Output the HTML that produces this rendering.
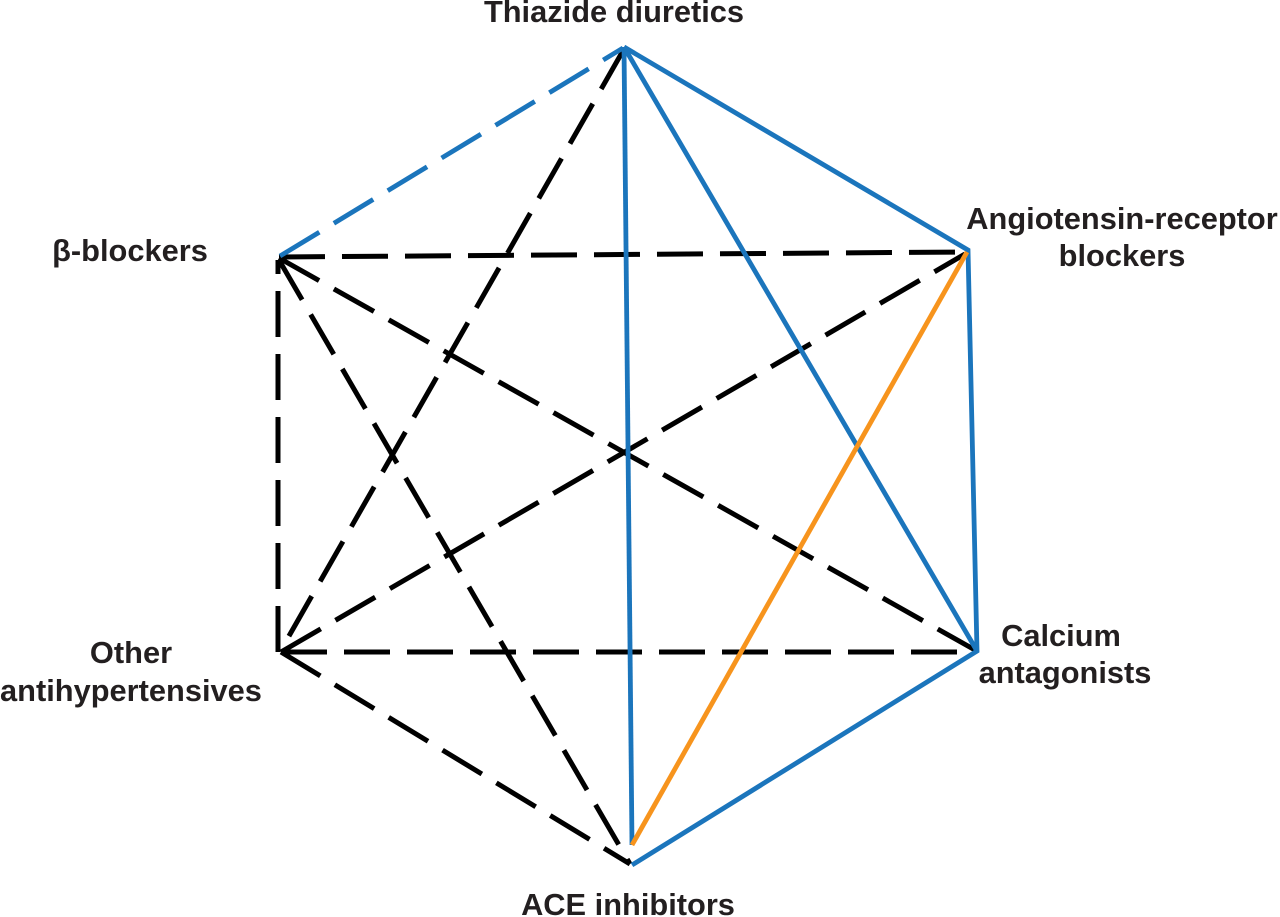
<!DOCTYPE html>
<html>
<head>
<meta charset="utf-8">
<style>
  html,body{margin:0;padding:0;background:#fff;}
  svg{display:block;}
  text{font-family:"Liberation Sans",Arial,sans-serif;font-weight:bold;font-size:30.8px;fill:#231f20;}
</style>
</head>
<body>
<svg width="1280" height="917" viewBox="0 0 1280 917" xmlns="http://www.w3.org/2000/svg">
  <!-- black dashed -->
  <g stroke="#000" stroke-width="5" stroke-dasharray="46 17" fill="none" stroke-linecap="butt">
    <line x1="279" y1="257" x2="965" y2="252"/>
    <line x1="279" y1="258" x2="975" y2="650"/>
    <line x1="279" y1="260" x2="630" y2="864"/>
    <line x1="278" y1="652" x2="278" y2="260"/>
    <line x1="281" y1="652" x2="975" y2="652"/>
    <line x1="281" y1="652" x2="965" y2="254"/>
    <line x1="281" y1="652" x2="630" y2="864"/>
    <line x1="624" y1="49" x2="281" y2="650"/>
  </g>
  <!-- blue dashed -->
  <line x1="280" y1="256" x2="623" y2="48" stroke="#1b75bc" stroke-width="4.8" stroke-dasharray="46 17" fill="none"/>
  <!-- blue solid -->
  <g stroke="#1b75bc" stroke-width="4.8" fill="none" stroke-linejoin="miter">
    <line x1="624" y1="47" x2="632" y2="845"/>
    <line x1="624" y1="47" x2="977" y2="651"/>
    <polyline points="624,47 968,250 977,651 632,865"/>
  </g>
  <!-- orange -->
  <line x1="967" y1="252" x2="632" y2="845" stroke="#f7941d" stroke-width="4.8"/>

  <!-- labels -->
  <text x="614" y="22" text-anchor="middle">Thiazide diuretics</text>
  <text x="1122" y="229" text-anchor="middle">Angiotensin-receptor</text>
  <text x="1122" y="266" text-anchor="middle">blockers</text>
  <text x="130" y="261" text-anchor="middle">β-blockers</text>
  <text x="131" y="663" text-anchor="middle">Other</text>
  <text x="131" y="701" text-anchor="middle">antihypertensives</text>
  <text x="1061" y="646" text-anchor="middle">Calcium</text>
  <text x="1065" y="683" text-anchor="middle">antagonists</text>
  <text x="628" y="915" text-anchor="middle">ACE inhibitors</text>
</svg>
</body>
</html>
